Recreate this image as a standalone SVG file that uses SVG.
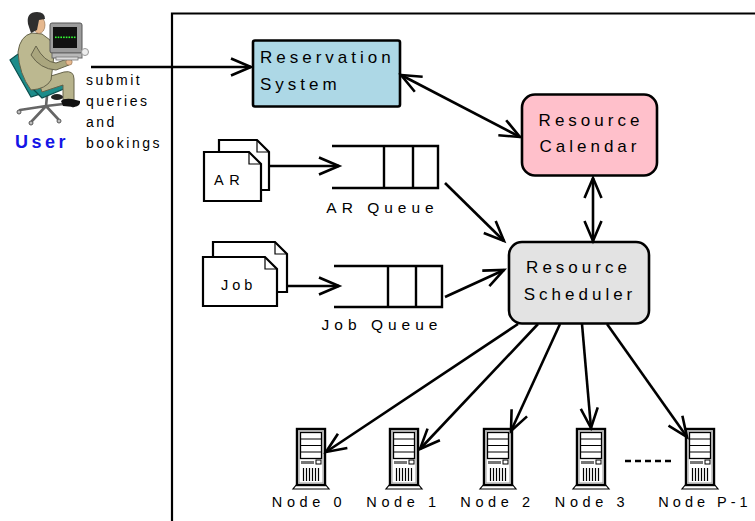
<svg xmlns="http://www.w3.org/2000/svg" xmlns:xlink="http://www.w3.org/1999/xlink" width="755" height="521" viewBox="0 0 755 521">
  <style>
    .lbl { font-family: "Liberation Sans", Arial, sans-serif; fill: #000; }
    .box { font-size: 17px; letter-spacing: 4px; }
    .q { font-size: 15.5px; letter-spacing: 5px; }
    .node { font-size: 14.5px; letter-spacing: 4.6px; text-anchor: middle; }
    .side { font-size: 14px; letter-spacing: 2.5px; }
    .conn { fill: none; stroke: #000; stroke-width: 2.6; }
    .doc { fill: #fff; stroke: #000; stroke-width: 2.2; stroke-linejoin: miter; }
    .queue { fill: none; stroke: #000; stroke-width: 2.4; }
  </style>
  <defs>
    <marker id="ah" markerUnits="userSpaceOnUse" markerWidth="30" markerHeight="24" viewBox="-24 -12 30 24" refX="0" refY="0" orient="auto-start-reverse" overflow="visible">
      <path d="M-20,-8.5 L0,0 L-20,8.5" fill="none" stroke="#000" stroke-width="2.6"/>
    </marker>
    <!-- tower server icon, 36 x 62 -->
    <g id="srv">
      <path d="M4,56 L0,61 L36,61 L32,56" fill="#fff" stroke="#000" stroke-width="1.2"/>
      <rect x="4" y="1" width="28" height="56" fill="#fff" stroke="#000" stroke-width="2.4"/>
      <rect x="6" y="3" width="24" height="52" fill="none" stroke="#999" stroke-width="1"/>
      <rect x="7.5" y="4.5" width="21" height="26" fill="#fff" stroke="#000" stroke-width="1.3"/>
      <path d="M7.5,11 H28.5 M7.5,17.5 H28.5 M7.5,24 H28.5" stroke="#000" stroke-width="1.2"/>
      <rect x="8" y="33" width="13" height="3" fill="#777"/>
      <rect x="23" y="32" width="5" height="4" fill="#fff" stroke="#000" stroke-width="1"/>
      <path d="M10.5,40 V53 M13.5,40 V53 M16.5,40 V53 M19.5,40 V53 M22.5,40 V53 M25.5,40 V53" stroke="#000" stroke-width="1.2"/>
    </g>
  </defs>

  <rect width="755" height="521" fill="#fff"/>

  <!-- system boundary, open on the right and bottom -->
  <path d="M172,530 V13.5 H760" fill="none" stroke="#000" stroke-width="2.2"/>

  <!-- user at workstation -->
  <g id="user">
    <!-- chair base -->
    <g stroke="#666" stroke-width="2.6" stroke-linecap="round">
      <path d="M47,96 L46,106"/>
      <path d="M46,106 L20,110 M46,106 L32,121 M46,106 L58,119 M46,106 L72,103"/>
    </g>
    <g fill="#bbb" stroke="#555" stroke-width="1">
      <circle cx="19" cy="112" r="2"/><circle cx="31" cy="123" r="2"/>
      <circle cx="59" cy="121" r="2"/><circle cx="73" cy="105" r="2"/>
    </g>
    <!-- chair back and seat -->
    <polygon points="10,60 18,54 37,84 40,94 31,97" fill="#1c8c8a" stroke="#0b4f4e" stroke-width="1.2"/>
    <polygon points="33,89 60,83 66,88 42,98" fill="#1c8c8a" stroke="#0b4f4e" stroke-width="1.2"/>
    <!-- legs -->
    <path d="M38,80 L64,72 Q74,70 74,79 L74,100 L63,100 L63,85 L42,92 Z" fill="#b7b38c" stroke="#66634a" stroke-width="1"/>
    <path d="M61,101 Q64,98 72,99 L80,101 Q81,106 74,107 L63,106 Z" fill="#111"/>
    <ellipse cx="57" cy="97" rx="6" ry="3" fill="#222"/>
    <!-- torso -->
    <path d="M18,52 Q20,36 32,33 L42,34 L50,40 Q55,52 53,64 L51,80 Q46,89 31,90 Q19,74 18,52 Z" fill="#bcb890" stroke="#66634a" stroke-width="1"/>
    <!-- arm -->
    <path d="M36,46 Q44,62 56,63 L67,59 L69,65 L56,70 Q40,69 31,55 Z" fill="#aaa67e" stroke="#66634a" stroke-width="1"/>
    <circle cx="69" cy="62" r="3.2" fill="#e6b88e" stroke="#8a6a4a" stroke-width="0.6"/>
    <!-- head -->
    <ellipse cx="39" cy="25" rx="6" ry="8.5" fill="#e6b88e" stroke="#8a6a4a" stroke-width="0.6"/>
    <path d="M28,24 Q26,12 37,12 Q45,12 45,19 L39,20 L37,30 L31,33 Z" fill="#2e2e2e"/>
    <!-- monitor -->
    <rect x="50" y="23" width="32" height="30" rx="2" fill="#9c9c9c" stroke="#555" stroke-width="1"/>
    <rect x="53" y="27" width="24" height="21" fill="#111"/>
    <g fill="#3f3">
      <rect x="55" y="36.5" width="1.6" height="1.6"/><rect x="57.7" y="36.5" width="1.6" height="1.6"/>
      <rect x="60.4" y="36.5" width="1.6" height="1.6"/><rect x="63.1" y="36.5" width="1.6" height="1.6"/>
      <rect x="65.8" y="36.5" width="1.6" height="1.6"/><rect x="68.5" y="36.5" width="1.6" height="1.6"/>
      <rect x="71.2" y="36.5" width="1.6" height="1.6"/><rect x="73.9" y="36.5" width="1.6" height="1.6"/>
    </g>
    <rect x="52" y="53" width="30" height="5" fill="#b8b8b8" stroke="#666" stroke-width="1"/>
    <rect x="56" y="57" width="22" height="3" fill="#ddd" stroke="#777" stroke-width="0.8"/>
    <circle cx="85" cy="52" r="3.5" fill="#eee" stroke="#999" stroke-width="1"/>
    <text class="lbl" x="15" y="148" font-size="18" font-weight="bold" letter-spacing="3.5" style="fill:#1515e6">User</text>
    <text class="lbl side" x="86" y="85">submit</text>
    <text class="lbl side" x="86" y="106">queries</text>
    <text class="lbl side" x="86" y="127">and</text>
    <text class="lbl side" x="86" y="148">bookings</text>
  </g>

  <g id="reservation-system">
    <rect x="253" y="40.5" width="147" height="66" rx="2" fill="#add8e6" stroke="#000" stroke-width="2.6"/>
    <text class="lbl box" x="260" y="63">Reservation</text>
    <text class="lbl box" x="260" y="90">System</text>
  </g>

  <g id="resource-calendar">
    <rect x="522" y="94.5" width="135" height="81" rx="13" fill="#ffc0cb" stroke="#000" stroke-width="2.6"/>
    <text class="lbl box" x="591" y="126" text-anchor="middle">Resource</text>
    <text class="lbl box" x="590" y="152" text-anchor="middle">Calendar</text>
  </g>

  <g id="resource-scheduler">
    <rect x="509" y="242" width="140" height="81.5" rx="13" fill="#e3e3e3" stroke="#000" stroke-width="2.6"/>
    <text class="lbl box" x="578.5" y="273" text-anchor="middle">Resource</text>
    <text class="lbl box" x="580" y="300" text-anchor="middle">Scheduler</text>
  </g>

  <g id="ar-requests">
    <path class="doc" d="M219,140 H257 L269,152 V190 H219 Z"/>
    <path d="M257,140 V152 H269" fill="none" stroke="#000" stroke-width="1.2"/>
    <path class="doc" d="M204,152 H249 L261,164 V201 H204 Z"/>
    <path d="M249,152 V164 H261" fill="none" stroke="#000" stroke-width="1.2"/>
    <text class="lbl" x="214" y="185" font-size="14.5" letter-spacing="5.5">AR</text>
  </g>

  <g id="job-requests">
    <path class="doc" d="M213,242 H275 L287,254 V292 H213 Z"/>
    <path d="M275,242 V254 H287" fill="none" stroke="#000" stroke-width="1.2"/>
    <path class="doc" d="M203,257 H265 L277,269 V306 H203 Z"/>
    <path d="M265,257 V269 H277" fill="none" stroke="#000" stroke-width="1.2"/>
    <text class="lbl" x="221" y="290" font-size="14.5" letter-spacing="4">Job</text>
  </g>

  <g id="ar-queue">
    <path class="queue" d="M332,146 H438 V188 H332 M384,146 V188 M413,146 V188"/>
    <text class="lbl q" x="382.5" y="213" text-anchor="middle">AR Queue</text>
  </g>

  <g id="job-queue">
    <path class="queue" d="M334,266 H442 V307 H334 M388,266 V307 M416,266 V307"/>
    <text class="lbl q" x="382" y="330" text-anchor="middle">Job Queue</text>
  </g>

  <g id="node-0">
    <use xlink:href="#srv" x="293" y="428"/>
    <text class="lbl node" x="309" y="507">Node 0</text>
  </g>
  <g id="node-1">
    <use xlink:href="#srv" x="386" y="428"/>
    <text class="lbl node" x="403.5" y="507">Node 1</text>
  </g>
  <g id="node-2">
    <use xlink:href="#srv" x="480" y="428"/>
    <text class="lbl node" x="497.5" y="507">Node 2</text>
  </g>
  <g id="node-3">
    <use xlink:href="#srv" x="573" y="428"/>
    <text class="lbl node" x="592" y="507">Node 3</text>
  </g>
  <g id="node-p-1">
    <use xlink:href="#srv" x="682" y="428"/>
    <text class="lbl node" x="705" y="507" style="letter-spacing:4px">Node P-1</text>
  </g>

  <g id="connectors">
    <path class="conn" d="M91,67 H251" marker-end="url(#ah)"/>
    <path class="conn" d="M401,75 L520,137" marker-start="url(#ah)" marker-end="url(#ah)"/>
    <path class="conn" d="M593,178 V241" marker-start="url(#ah)" marker-end="url(#ah)"/>
    <path class="conn" d="M270,166 H339" marker-end="url(#ah)"/>
    <path class="conn" d="M288,286 H339" marker-end="url(#ah)"/>
    <path class="conn" d="M445,183 L504,241" marker-end="url(#ah)"/>
    <path class="conn" d="M445,297 L504,270" marker-end="url(#ah)"/>
    <path class="conn" d="M518,324 L326,452" marker-end="url(#ah)"/>
    <path class="conn" d="M538,324 L420,449" marker-end="url(#ah)"/>
    <path class="conn" d="M560,324 L511,431" marker-end="url(#ah)"/>
    <path class="conn" d="M582,324 L591,428" marker-end="url(#ah)"/>
    <path class="conn" d="M607,324 L687,437" marker-end="url(#ah)"/>
    <path class="conn" d="M625,461 H673" stroke-dasharray="6 4"/>
  </g>
</svg>
